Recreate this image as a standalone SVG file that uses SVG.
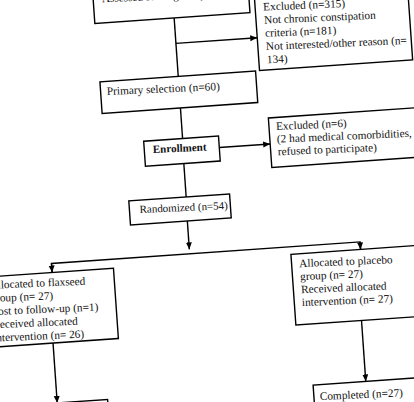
<svg xmlns="http://www.w3.org/2000/svg" width="414" height="402" viewBox="0 0 414 402">
<style>
.box{fill:#fff;stroke:#000;stroke-width:1.4}
.t{font-family:"Liberation Serif","Times New Roman",serif;font-size:11.3px;fill:#111}
.b{font-weight:bold;font-size:11px}
.s{font-size:11px}
.c{fill:none;stroke:#000;stroke-width:1.4}
</style>
<defs>
<marker id="ah" markerUnits="userSpaceOnUse" markerWidth="8" markerHeight="7" refX="7" refY="3" orient="auto">
<path d="M0,0 L7,3 L0,6 z" fill="#000"/>
</marker>
</defs>
<rect width="414" height="402" fill="#fff"/>
<g transform="rotate(-4 207 201)">
<g id="connectors">
<line class="c" x1="187" y1="16" x2="187" y2="74.7"/>
<line class="c" x1="187" y1="41.6" x2="268.5" y2="41.6" marker-end="url(#ah)"/>
<line class="c" x1="187" y1="106.3" x2="187" y2="137"/>
<line class="c" x1="223" y1="148.5" x2="274" y2="148.5" marker-end="url(#ah)"/>
<line class="c" x1="186.5" y1="162" x2="186.5" y2="195.5"/>
<line class="c" x1="186" y1="219.5" x2="186" y2="248" marker-end="url(#ah)"/>
<polyline class="c" points="47.5,261.5 47.5,252.5 356.8,252.5 356.8,260"/>
<line class="c" x1="47.5" y1="252.5" x2="47.5" y2="261.5" marker-end="url(#ah)"/>
<line class="c" x1="356.8" y1="252.5" x2="356.8" y2="260" marker-end="url(#ah)"/>
<line class="c" x1="43.5" y1="332" x2="43.5" y2="392" marker-end="url(#ah)"/>
<line class="c" x1="352.8" y1="331" x2="352.8" y2="392" marker-end="url(#ah)"/>
</g>
<g id="assessed">
<rect class="box" x="107.5" y="-40" width="155.5" height="56"/>
<text class="t" x="116" y="-4.5" transform="rotate(1.5 116 -4.5)">Assessed for eligibility</text>
</g>
<g id="excluded315">
<rect class="box" x="268.5" y="-2" width="153.5" height="76.5"/>
<text class="t" x="276.5" y="15" transform="rotate(1.5 276.5 15)">Excluded (n=315)</text>
<text class="t" x="276.5" y="28.1" transform="rotate(1.5 276.5 28.1)">Not chronic constipation</text>
<text class="t" x="276.5" y="41.3" transform="rotate(1.5 276.5 41.3)">criteria (n=181)</text>
<text class="t" x="276.5" y="54.5" transform="rotate(1.5 276.5 54.5)">Not interested/other reason (n=</text>
<text class="t" x="276.5" y="67.7" transform="rotate(1.5 276.5 67.7)">134)</text>
</g>
<g id="primary">
<rect class="box" x="108.5" y="74.7" width="156" height="31.6"/>
<text class="t" x="114.6" y="88.3" transform="rotate(1.5 114.6 88.3)">Primary selection (n=60)</text>
</g>
<g id="enrollment">
<rect class="box" x="148" y="137" width="75" height="25"/>
<text class="t b" x="156.5" y="149.3" transform="rotate(1.5 156.5 149.3)">Enrollment</text>
</g>
<g id="excluded6">
<rect class="box" x="274" y="122.5" width="160" height="49.5"/>
<text class="t" x="281" y="135" transform="rotate(1.5 281 135)">Excluded (n=6)</text>
<text class="t" x="281" y="147.7" transform="rotate(1.5 281 147.7)">(2 had medical comorbidities, 4</text>
<text class="t" x="281" y="160.4" transform="rotate(1.5 281 160.4)">refused to participate)</text>
</g>
<g id="randomized">
<rect class="box" x="129" y="195.5" width="101" height="24"/>
<text class="t s" x="139" y="208.3" transform="rotate(1.5 139 208.3)">Randomized (n=54)</text>
</g>
<g id="flaxseed">
<rect class="box" x="-30" y="261.5" width="139" height="70.5"/>
<text class="t" x="-16" y="273.5" transform="rotate(1.5 -16 273.5)">Allocated to flaxseed</text>
<text class="t" x="-16" y="286.7" transform="rotate(1.5 -16 286.7)">group (n= 27)</text>
<text class="t" x="-16" y="299.9" transform="rotate(1.5 -16 299.9)">Lost to follow-up (n=1)</text>
<text class="t" x="-16" y="313.1" transform="rotate(1.5 -16 313.1)">Received allocated</text>
<text class="t" x="-16" y="326.3" transform="rotate(1.5 -16 326.3)">intervention (n= 26)</text>
</g>
<g id="placebo">
<rect class="box" x="287" y="260" width="130" height="71"/>
<text class="t" x="294.5" y="273.5" transform="rotate(1.5 294.5 273.5)">Allocated to placebo</text>
<text class="t" x="294.5" y="286.5" transform="rotate(1.5 294.5 286.5)">group (n= 27)</text>
<text class="t" x="294.5" y="299.5" transform="rotate(1.5 294.5 299.5)">Received allocated</text>
<text class="t" x="294.5" y="312.5" transform="rotate(1.5 294.5 312.5)">intervention (n= 27)</text>
</g>
<g id="completedFlax">
<rect class="box" x="-8" y="392" width="102" height="30"/>
</g>
<g id="completedPlacebo">
<rect class="box" x="300" y="392" width="110" height="30"/>
<text class="t" x="305.8" y="407.4" transform="rotate(1.5 305.8 407.4)">Completed (n=27)</text>
</g>
</g>
</svg>
